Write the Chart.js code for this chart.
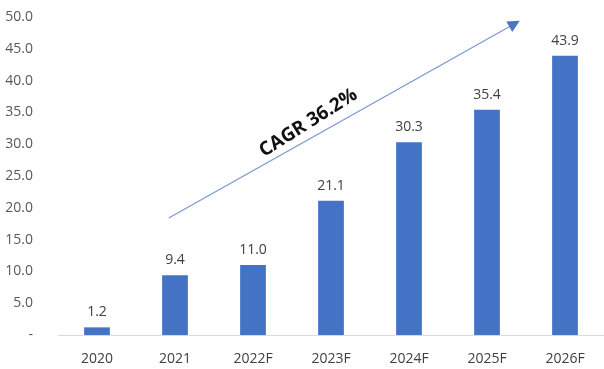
<!DOCTYPE html>
<html>
<head>
<meta charset="utf-8">
<script src="https://cdn.jsdelivr.net/npm/chart.js@4"></script>
<style>
  html, body { margin: 0; padding: 0; background: #fff; }
  #wrap { width: 604px; height: 369px; }
</style>
</head>
<body>
<div id="wrap"><canvas id="market"></canvas></div>
<script>
const years = ['2020', '2021', '2022F', '2023F', '2024F', '2025F', '2026F'];
const marketSize = [1.2, 9.4, 11.0, 21.1, 30.3, 35.4, 43.9];
const cagrLabel = 'CAGR 36.2%';
// arrow ends in data space: [category index, value]
const arrowFrom = [0.92, 18.4];
const arrowTo = [5.42, 49.4];

const barColor = '#4472C4';
const textColor = '#404040';

const valueLabels = {
  id: 'valueLabels',
  afterDatasetsDraw(chart) {
    const ctx = chart.ctx;
    const meta = chart.getDatasetMeta(0);
    ctx.save();
    ctx.font = '14px "Open Sans"';
    ctx.fillStyle = textColor;
    ctx.textAlign = 'center';
    ctx.textBaseline = 'bottom';
    meta.data.forEach((bar, i) => {
      ctx.fillText(marketSize[i].toFixed(1), bar.x, bar.y - 8);
    });
    ctx.restore();
  }
};

const cagrArrow = {
  id: 'cagrArrow',
  afterDraw(chart) {
    const {ctx, scales: {x, y}} = chart;
    const x0 = x.getPixelForValue(arrowFrom[0]), y0 = y.getPixelForValue(arrowFrom[1]);
    const x1 = x.getPixelForValue(arrowTo[0]), y1 = y.getPixelForValue(arrowTo[1]);
    const ang = Math.atan2(y1 - y0, x1 - x0);
    ctx.save();
    ctx.strokeStyle = '#7a97d2';
    ctx.fillStyle = '#4a74c4';
    ctx.lineWidth = 1.2;
    ctx.beginPath();
    ctx.moveTo(x0, y0);
    ctx.lineTo(x1 - 8 * Math.cos(ang), y1 - 8 * Math.sin(ang));
    ctx.stroke();
    // arrow head
    ctx.translate(x1, y1);
    ctx.rotate(ang);
    ctx.beginPath();
    ctx.moveTo(0, 0);
    ctx.lineTo(-12, -6);
    ctx.lineTo(-12, 6);
    ctx.closePath();
    ctx.fill();
    ctx.restore();

    // label along the arrow
    const mx = x0 + (x1 - x0) * 0.42, my = y0 + (y1 - y0) * 0.42;
    ctx.save();
    ctx.translate(mx, my);
    ctx.rotate(ang - 0.05);
    ctx.font = 'bold 19px "Open Sans"';
    ctx.fillStyle = '#111';
    ctx.textAlign = 'center';
    ctx.textBaseline = 'bottom';
    ctx.fillText(cagrLabel, 0, -5);
    ctx.restore();
  }
};

new Chart(document.getElementById('market'), {
  type: 'bar',
  data: {
    labels: years,
    datasets: [{
      data: marketSize,
      backgroundColor: barColor,
      barPercentage: 0.33,
      categoryPercentage: 1.0
    }]
  },
  options: {
    responsive: true,
    maintainAspectRatio: false,
    animation: false,
    layout: { padding: 0 },
    plugins: {
      legend: { display: false },
      tooltip: { enabled: false }
    },
    scales: {
      x: {
        grid: { display: false },
        border: { color: '#d9d9d9' },
        ticks: { color: textColor, font: { family: 'Open Sans', size: 14 }, padding: 8 },
        afterFit(scale) { scale.height = 34; }
      },
      y: {
        min: 0,
        max: 50,
        grid: { display: false },
        border: { display: false },
        ticks: {
          stepSize: 5,
          color: '#595959',
          font: { family: 'Open Sans', size: 14 },
          padding: 17,
          callback: v => v === 0 ? '-' : v.toFixed(1)
        },
        afterFit(scale) {
          scale.width = 58;
          scale.paddingTop = 17;
          scale.paddingBottom = 0;
        }
      }
    }
  },
  plugins: [valueLabels, cagrArrow]
});
</script>
</body>
</html>
